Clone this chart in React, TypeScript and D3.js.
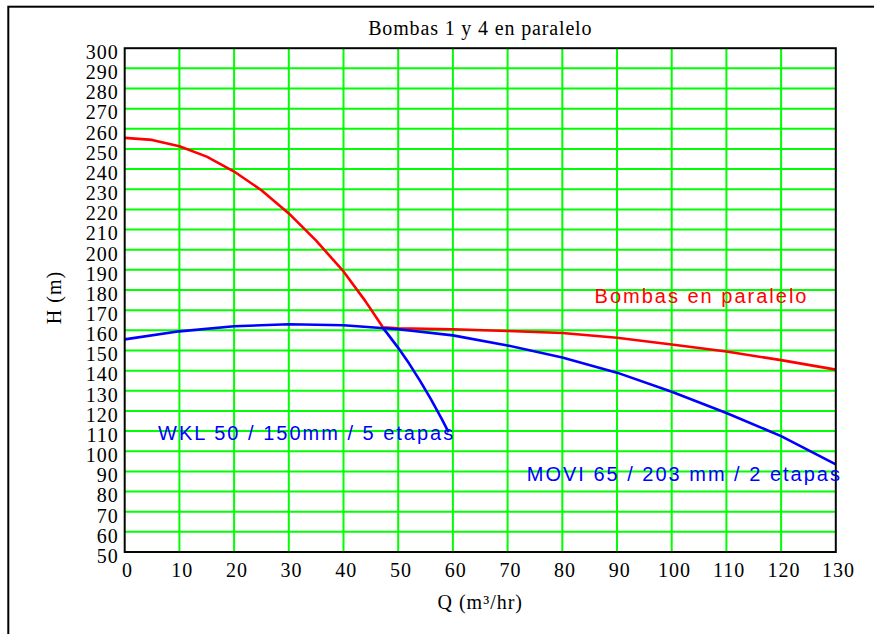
import { useEffect, useRef } from "react"
import * as d3 from "d3"

// Pump curves (Q in m³/hr, H in m)
const parallelQ = [0, 5, 10, 15, 20, 25, 30, 35, 40, 44, 47.2, 50, 60, 70, 80, 90, 100, 110, 120, 130]
const parallelH = [255.5, 254.5, 251.3, 246.2, 238.8, 229.5, 218, 204.5, 189.2, 174.5, 161.5, 161, 160.5, 159.7, 158.7, 156.3, 153, 149.5, 145.2, 140.5]

const moviQ = [0, 10, 20, 30, 40, 50, 60, 70, 80, 90, 100, 110, 120, 130]
const moviH = [155.5, 159.5, 162, 163, 162.5, 160.5, 157.5, 152.5, 146.5, 139, 129.5, 119, 107.5, 93.5]

const wklQ = [47.2, 48, 50, 52, 54, 56, 58, 59.2]
const wklH = [161.2, 158.5, 151.3, 143.5, 134.9, 125.7, 115.8, 109.5]

const xTicks = [0, 10, 20, 30, 40, 50, 60, 70, 80, 90, 100, 110, 120, 130]
const yTicks = [50, 60, 70, 80, 90, 100, 110, 120, 130, 140, 150, 160, 170, 180, 190, 200, 210, 220, 230, 240, 250, 260, 270, 280, 290, 300]

const title = "Bombas 1 y 4 en paralelo"
const xLabel = "Q (m³/hr)"
const yLabel = "H (m)"

// annotation text with its anchor in data units
const notes = [
  { text: "Bombas en paralelo", q: 85.9, h: 173.4, color: "#ff0000" },
  { text: "WKL 50 / 150mm / 5 etapas", q: 6.1, h: 105.5, color: "#0000ff" },
  { text: "MOVI 65 / 203 mm / 2 etapas", q: 73.5, h: 85.2, color: "#0000ff" },
]

interface Pt {
  q: number
  h: number
}

const zip = (qs: number[], hs: number[]): Pt[] => qs.map((q, i) => ({ q, h: hs[i] }))

const SERIF = "'Liberation Serif', 'Times New Roman', serif"
const SANS = "'Liberation Sans', Arial, sans-serif"

export default function App() {
  const svgRef = useRef<SVGSVGElement | null>(null)

  useEffect(() => {
    if (!svgRef.current) return
    const svg = d3.select(svgRef.current)
    svg.selectAll("*").remove()

    const left = 124.7
    const right = 835.8
    const top = 48.2
    const bottom = 552

    const x = d3.scaleLinear().domain([0, 130]).range([left, right])
    const y = d3.scaleLinear().domain([50, 300]).range([bottom, top])

    // outer frame (runs off the page on the right / bottom)
    svg
      .append("rect")
      .attr("x", 8.3)
      .attr("y", 6.7)
      .attr("width", 900)
      .attr("height", 700)
      .attr("fill", "none")
      .attr("stroke", "#000")
      .attr("stroke-width", 2)

    // grid
    const grid = svg.append("g")
    grid
      .selectAll("line.v")
      .data(xTicks.slice(1, -1))
      .enter()
      .append("line")
      .attr("x1", (d) => x(d))
      .attr("x2", (d) => x(d))
      .attr("y1", top)
      .attr("y2", bottom)
      .attr("stroke", "#00ff00")
      .attr("stroke-width", 2)
    grid
      .selectAll("line.h")
      .data(yTicks.slice(1, -1))
      .enter()
      .append("line")
      .attr("x1", left)
      .attr("x2", right)
      .attr("y1", (d) => y(d))
      .attr("y2", (d) => y(d))
      .attr("stroke", "#00ff00")
      .attr("stroke-width", 2)

    // curves
    const line = d3
      .line<Pt>()
      .x((d) => x(d.q))
      .y((d) => y(d.h))
      .curve(d3.curveLinear)

    const series = [
      { data: zip(parallelQ, parallelH), color: "#ff0000" },
      { data: zip(moviQ, moviH), color: "#0000ff" },
      { data: zip(wklQ, wklH), color: "#0000ff" },
    ]
    series.forEach((s) => {
      svg
        .append("path")
        .datum(s.data)
        .attr("fill", "none")
        .attr("stroke", s.color)
        .attr("stroke-width", 2.6)
        .attr("stroke-linejoin", "round")
        .attr("d", line)
    })

    // plot border
    svg
      .append("rect")
      .attr("x", left)
      .attr("y", top)
      .attr("width", right - left)
      .attr("height", bottom - top)
      .attr("fill", "none")
      .attr("stroke", "#000800")
      .attr("stroke-width", 2)

    // axes (labels only)
    const yAxis = svg
      .append("g")
      .attr("transform", `translate(${left},0)`)
      .call(d3.axisLeft(y).tickValues(yTicks).tickSize(0).tickPadding(6))
    yAxis.select(".domain").remove()
    yAxis
      .selectAll("text")
      .attr("dy", "10.3px")
      .style("font-family", SERIF)
      .style("font-size", "20px")
      .style("letter-spacing", "1px")
      .attr("fill", "#000")

    const xAxis = svg
      .append("g")
      .attr("transform", `translate(0,${bottom})`)
      .call(d3.axisBottom(x).tickValues(xTicks).tickSize(0).tickPadding(0))
    xAxis.select(".domain").remove()
    xAxis
      .selectAll("text")
      .attr("x", 2.3)
      .attr("y", 0)
      .attr("dy", "24.5px")
      .style("font-family", SERIF)
      .style("font-size", "20px")
      .style("letter-spacing", "1px")
      .attr("fill", "#000")

    // title and axis titles
    svg
      .append("text")
      .attr("x", (left + right) / 2)
      .attr("y", 35)
      .attr("text-anchor", "middle")
      .style("font-family", SERIF)
      .style("font-size", "20px")
      .style("letter-spacing", "0.85px")
      .text(title)

    svg
      .append("text")
      .attr("x", (left + right) / 2)
      .attr("y", 609)
      .attr("text-anchor", "middle")
      .style("font-family", SERIF)
      .style("font-size", "20px")
      .style("letter-spacing", "1px")
      .text(xLabel)

    svg
      .append("text")
      .attr("transform", "translate(60.5,297.5) rotate(-90)")
      .attr("text-anchor", "middle")
      .style("font-family", SERIF)
      .style("font-size", "20px")
      .style("letter-spacing", "1px")
      .text(yLabel)

    // curve annotations
    notes.forEach((n) => {
      svg
        .append("text")
        .attr("x", x(n.q))
        .attr("y", y(n.h))
        .attr("fill", n.color)
        .style("font-family", SANS)
        .style("font-size", "20px")
        .style("letter-spacing", "2px")
        .text(n.text)
    })
  }, [])

  return (
    <div style={{ position: "absolute", left: 0, top: 0, width: 874, height: 634, overflow: "hidden", background: "#fff" }}>
      <svg ref={svgRef} width={874} height={634} style={{ display: "block" }} />
    </div>
  )
}
